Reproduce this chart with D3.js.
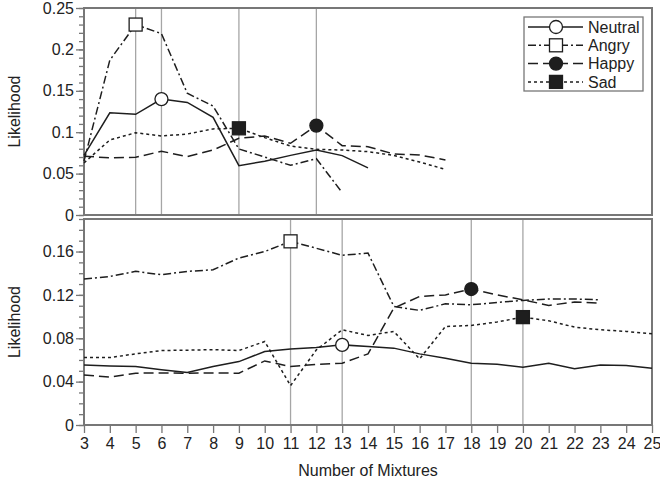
<!DOCTYPE html>
<html>
<head>
<meta charset="utf-8">
<script src="https://cdn.jsdelivr.net/npm/d3@7"></script>
<style>
  body { margin: 0; background: #fff; }
  text { font-family: "Liberation Sans", Arial, sans-serif; fill: #222; }
</style>
</head>
<body>
<div id="chart"></div>
<script>
// number of mixtures on the x axis
const mixtures = [3, 4, 5, 6, 7, 8, 9, 10, 11, 12, 13, 14, 15, 16, 17, 18, 19, 20, 21, 22, 23, 24, 25];

// top panel, every series starts at 3 mixtures
const topNeutral = [0.072, 0.1235, 0.1216, 0.140, 0.136, 0.118, 0.0596, 0.065, 0.072, 0.0785, 0.0717, 0.057];
const topAngry   = [0.065, 0.187, 0.230, 0.219, 0.147, 0.1316, 0.0797, 0.070, 0.060, 0.068, 0.027];
const topHappy   = [0.071, 0.069, 0.0697, 0.077, 0.0705, 0.0785, 0.0926, 0.0954, 0.0866, 0.108, 0.0837, 0.0825, 0.0737, 0.0725, 0.0665];
const topSad     = [0.063, 0.0906, 0.0994, 0.0954, 0.0978, 0.104, 0.1047, 0.0934, 0.0833, 0.0793, 0.0785, 0.0765, 0.072, 0.064, 0.055];

// bottom panel
const botNeutral = [0.0554, 0.0545, 0.0539, 0.051, 0.0484, 0.0539, 0.0585, 0.0678, 0.070, 0.0715, 0.0739, 0.0724, 0.0709, 0.0656, 0.0616, 0.057, 0.0561, 0.0533, 0.057, 0.0518, 0.0554, 0.0548, 0.0524];
const botAngry   = [0.1346, 0.137, 0.1417, 0.1386, 0.1417, 0.1432, 0.154, 0.160, 0.1694, 0.163, 0.1565, 0.1586, 0.1094, 0.1057, 0.1118, 0.1109, 0.113, 0.1149, 0.1162, 0.1162, 0.1155];
const botHappy   = [0.0462, 0.0441, 0.0478, 0.048, 0.0478, 0.048, 0.0478, 0.0591, 0.0539, 0.056, 0.057, 0.0656, 0.1078, 0.1186, 0.120, 0.1254, 0.12, 0.1155, 0.1103, 0.1134, 0.1124];
const botSad     = [0.0622, 0.0622, 0.0656, 0.0687, 0.069, 0.0695, 0.0687, 0.077, 0.0363, 0.0693, 0.0878, 0.0826, 0.0863, 0.061, 0.0909, 0.0918, 0.095, 0.0995, 0.0961, 0.0903, 0.0878, 0.0863, 0.0841];

// mixture count where each emotion peaks (marker + vertical line)
const topPeaks = {Neutral: 6, Angry: 5, Happy: 12, Sad: 9};
const botPeaks = {Neutral: 13, Angry: 11, Happy: 18, Sad: 20};

const topTicks = [0, 0.05, 0.1, 0.15, 0.2, 0.25];
const botTicks = [0, 0.04, 0.08, 0.12, 0.16];

const emotions = ["Neutral", "Angry", "Happy", "Sad"];
const dashes = {Neutral: null, Angry: "8,3,2,3", Happy: "10,5", Sad: "3,3"};
const ink = "#1e1e1e";
const frameColor = "#777";

const width = 660, height = 494;
const left = 84, right = 652;

const svg = d3.select("#chart")
    .append("svg")
    .attr("width", width)
    .attr("height", height);

const x = d3.scaleLinear()
    .domain([mixtures[0], mixtures[mixtures.length - 1]])
    .range([left, right]);

function drawMarker(g, name, cx, cy) {
    const filled = name === "Happy" || name === "Sad";
    if (name === "Neutral" || name === "Happy") {
        g.append("circle")
            .attr("cx", cx).attr("cy", cy).attr("r", 6.5)
            .attr("fill", filled ? ink : "#fff")
            .attr("stroke", ink).attr("stroke-width", 1.3);
    } else {
        g.append("rect")
            .attr("x", cx - 6.5).attr("y", cy - 6.5)
            .attr("width", 13).attr("height", 13)
            .attr("fill", filled ? ink : "#fff")
            .attr("stroke", ink).attr("stroke-width", 1.3);
    }
}

function panel(series, peaks, yMax, ticks, top, bottom, showX) {
    const y = d3.scaleLinear().domain([0, yMax]).range([bottom, top]);
    const g = svg.append("g");

    // peak reference lines
    emotions.forEach(e => {
        g.append("line")
            .attr("x1", x(peaks[e])).attr("x2", x(peaks[e]))
            .attr("y1", top).attr("y2", bottom)
            .attr("stroke", "#a6a6a6")
            .attr("stroke-width", 1.3);
    });

    // frame
    g.append("rect")
        .attr("x", left).attr("y", top)
        .attr("width", right - left).attr("height", bottom - top)
        .attr("fill", "none")
        .attr("stroke", frameColor)
        .attr("stroke-width", 2);

    // y axis with minor ticks
    const minor = d3.range(0, yMax + 1e-9, 0.01);
    g.append("g")
        .attr("transform", `translate(${left},0)`)
        .call(d3.axisLeft(y).tickValues(minor).tickSize(5).tickFormat(""))
        .call(a => a.select(".domain").remove())
        .call(a => a.selectAll("line").attr("stroke", frameColor).attr("stroke-width", 1.3));

    g.append("g")
        .attr("transform", `translate(${left},0)`)
        .call(d3.axisLeft(y).tickValues(ticks).tickSize(8).tickPadding(2)
            .tickFormat(d => d === 0 ? "0" : String(+d.toFixed(2))))
        .call(a => a.select(".domain").remove())
        .call(a => a.selectAll("line").attr("stroke", frameColor).attr("stroke-width", 1.3))
        .call(a => a.selectAll("text")
            .attr("font-family", "Liberation Sans, Arial, sans-serif")
            .attr("font-size", 16).attr("fill", "#222"));

    if (showX) {
        g.append("g")
            .attr("transform", `translate(0,${bottom})`)
            .call(d3.axisBottom(x).tickValues(mixtures).tickSize(8).tickPadding(5).tickFormat(d3.format("d")))
            .call(a => a.select(".domain").remove())
            .call(a => a.selectAll("line").attr("stroke", frameColor).attr("stroke-width", 1.3))
            .call(a => a.selectAll("text")
                .attr("font-family", "Liberation Sans, Arial, sans-serif")
                .attr("font-size", 16).attr("fill", "#222"));
    }

    // series lines
    const line = d3.line()
        .x((d, i) => x(mixtures[i]))
        .y(d => y(d));

    emotions.forEach(e => {
        g.append("path")
            .datum(series[e])
            .attr("fill", "none")
            .attr("stroke", ink)
            .attr("stroke-width", 1.5)
            .attr("stroke-dasharray", dashes[e])
            .attr("d", line);
    });

    emotions.forEach(e => {
        const i = mixtures.indexOf(peaks[e]);
        drawMarker(g, e, x(peaks[e]), y(series[e][i]));
    });

    g.append("text")
        .attr("transform", `translate(20,${(top + bottom) / 2}) rotate(-90)`)
        .attr("text-anchor", "middle")
        .attr("font-size", 16)
        .text("Likelihood");
}

panel({Neutral: topNeutral, Angry: topAngry, Happy: topHappy, Sad: topSad},
      topPeaks, 0.25, topTicks, 8, 215, false);
panel({Neutral: botNeutral, Angry: botAngry, Happy: botHappy, Sad: botSad},
      botPeaks, 0.19, botTicks, 219, 425, true);

svg.append("text")
    .attr("x", (left + right) / 2)
    .attr("y", 476)
    .attr("text-anchor", "middle")
    .attr("font-size", 16)
    .text("Number of Mixtures");

// legend
const legend = svg.append("g");
legend.append("rect")
    .attr("x", 524).attr("y", 17)
    .attr("width", 119).attr("height", 74)
    .attr("fill", "#fff")
    .attr("stroke", frameColor)
    .attr("stroke-width", 1.3);

emotions.forEach((e, i) => {
    const ly = 27 + i * 18.3;
    legend.append("line")
        .attr("x1", 528).attr("x2", 583)
        .attr("y1", ly).attr("y2", ly)
        .attr("stroke", ink)
        .attr("stroke-width", 1.5)
        .attr("stroke-dasharray", dashes[e]);
    drawMarker(legend, e, 556, ly);
    legend.append("text")
        .attr("x", 588).attr("y", ly)
        .attr("dy", "0.35em")
        .attr("font-size", 16)
        .text(e);
});
</script>
</body>
</html>
